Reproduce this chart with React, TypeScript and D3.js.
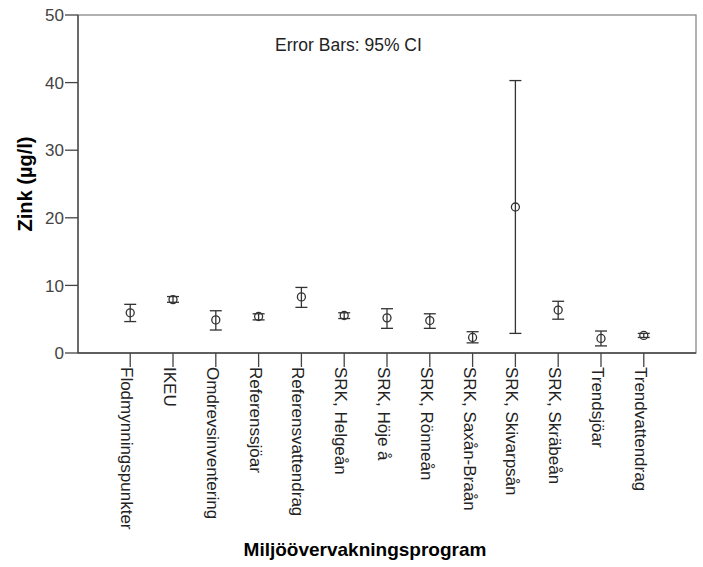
import React from 'react';
import * as d3 from 'd3';

const categories = [
  'Flodmynningspunkter',
  'IKEU',
  'Omdrevsinventering',
  'Referenssjöar',
  'Referensvattendrag',
  'SRK, Helgeån',
  'SRK, Höje å',
  'SRK, Rönneån',
  'SRK, Saxån-Braån',
  'SRK, Skivarpsån',
  'SRK, Skräbeån',
  'Trendsjöar',
  'Trendvattendrag',
];
const means = [5.95, 7.9, 4.9, 5.4, 8.3, 5.55, 5.2, 4.8, 2.3, 21.6, 6.35, 2.15, 2.6];
const lower = [4.65, 7.5, 3.4, 4.9, 6.75, 5.1, 3.65, 3.65, 1.5, 2.9, 5.0, 1.05, 2.3];
const upper = [7.2, 8.35, 6.25, 5.8, 9.7, 5.95, 6.55, 5.8, 3.15, 40.3, 7.65, 3.25, 2.9];
const yTicks = [0, 10, 20, 30, 40, 50];

const W = 703;
const H = 567;
const margin = { top: 15, right: 7, bottom: 214, left: 78 };
const font = 'Arial, "Liberation Sans", sans-serif';

export default function App() {
  const x0 = margin.left;
  const x1 = W - margin.right;
  const y0 = margin.top;
  const y1 = H - margin.bottom;

  const x = d3.scalePoint<string>().domain(categories).range([x0, x1]).padding(1.22);
  const y = d3.scaleLinear().domain([0, 50]).range([y1, y0]);

  const cap = 6;

  return (
    <svg width={W} height={H} style={{ position: 'absolute', left: 0, top: 0, background: '#fff' }}>
      {/* frame */}
      <rect x={x0} y={y0} width={x1 - x0} height={y1 - y0} fill="none" stroke="#888" strokeWidth={1.3} />
      <line x1={x0} x2={x0} y1={y0} y2={y1} stroke="#444" strokeWidth={1.3} />
      <line x1={x0} x2={x1} y1={y1} y2={y1} stroke="#444" strokeWidth={1.3} />

      {/* y axis */}
      {yTicks.map(t => (
        <g key={t}>
          <line x1={x0 - 13} x2={x0} y1={y(t)} y2={y(t)} stroke="#444" strokeWidth={1.3} />
          <text x={x0 - 14} y={y(t)} dy="0.36em" textAnchor="end" fontFamily={font} fontSize={17} fill="#444">
            {t}
          </text>
        </g>
      ))}

      {/* x axis */}
      {categories.map(c => (
        <g key={c}>
          <line x1={x(c)} x2={x(c)} y1={y1} y2={y1 + 14} stroke="#444" strokeWidth={1.3} />
          <text
            transform={`translate(${x(c)},${y1 + 14}) rotate(90)`}
            dy={9}
            textAnchor="start"
            fontFamily={font}
            fontSize={17}
            fill="#222"
          >
            {c}
          </text>
        </g>
      ))}

      {/* error bars */}
      {categories.map((c, i) => {
        const cx = x(c) as number;
        return (
          <g key={c} stroke="#333" strokeWidth={1.3} fill="none">
            <line x1={cx} x2={cx} y1={y(upper[i])} y2={y(lower[i])} />
            <line x1={cx - cap} x2={cx + cap} y1={y(upper[i])} y2={y(upper[i])} />
            <line x1={cx - cap} x2={cx + cap} y1={y(lower[i])} y2={y(lower[i])} />
            <circle cx={cx} cy={y(means[i])} r={4} />
          </g>
        );
      })}

      <text x={275} y={51} fontFamily={font} fontSize={17.5} fill="#222">
        Error Bars: 95% CI
      </text>

      <text
        transform={`translate(32,${(y0 + y1) / 2}) rotate(-90)`}
        textAnchor="middle"
        fontFamily={font}
        fontSize={20}
        fontWeight="bold"
        fill="#000"
      >
        Zink (µg/l)
      </text>

      <text x={365} y={556} textAnchor="middle" fontFamily={font} fontSize={19} fontWeight="bold" fill="#000">
        Miljöövervakningsprogram
      </text>
    </svg>
  );
}
